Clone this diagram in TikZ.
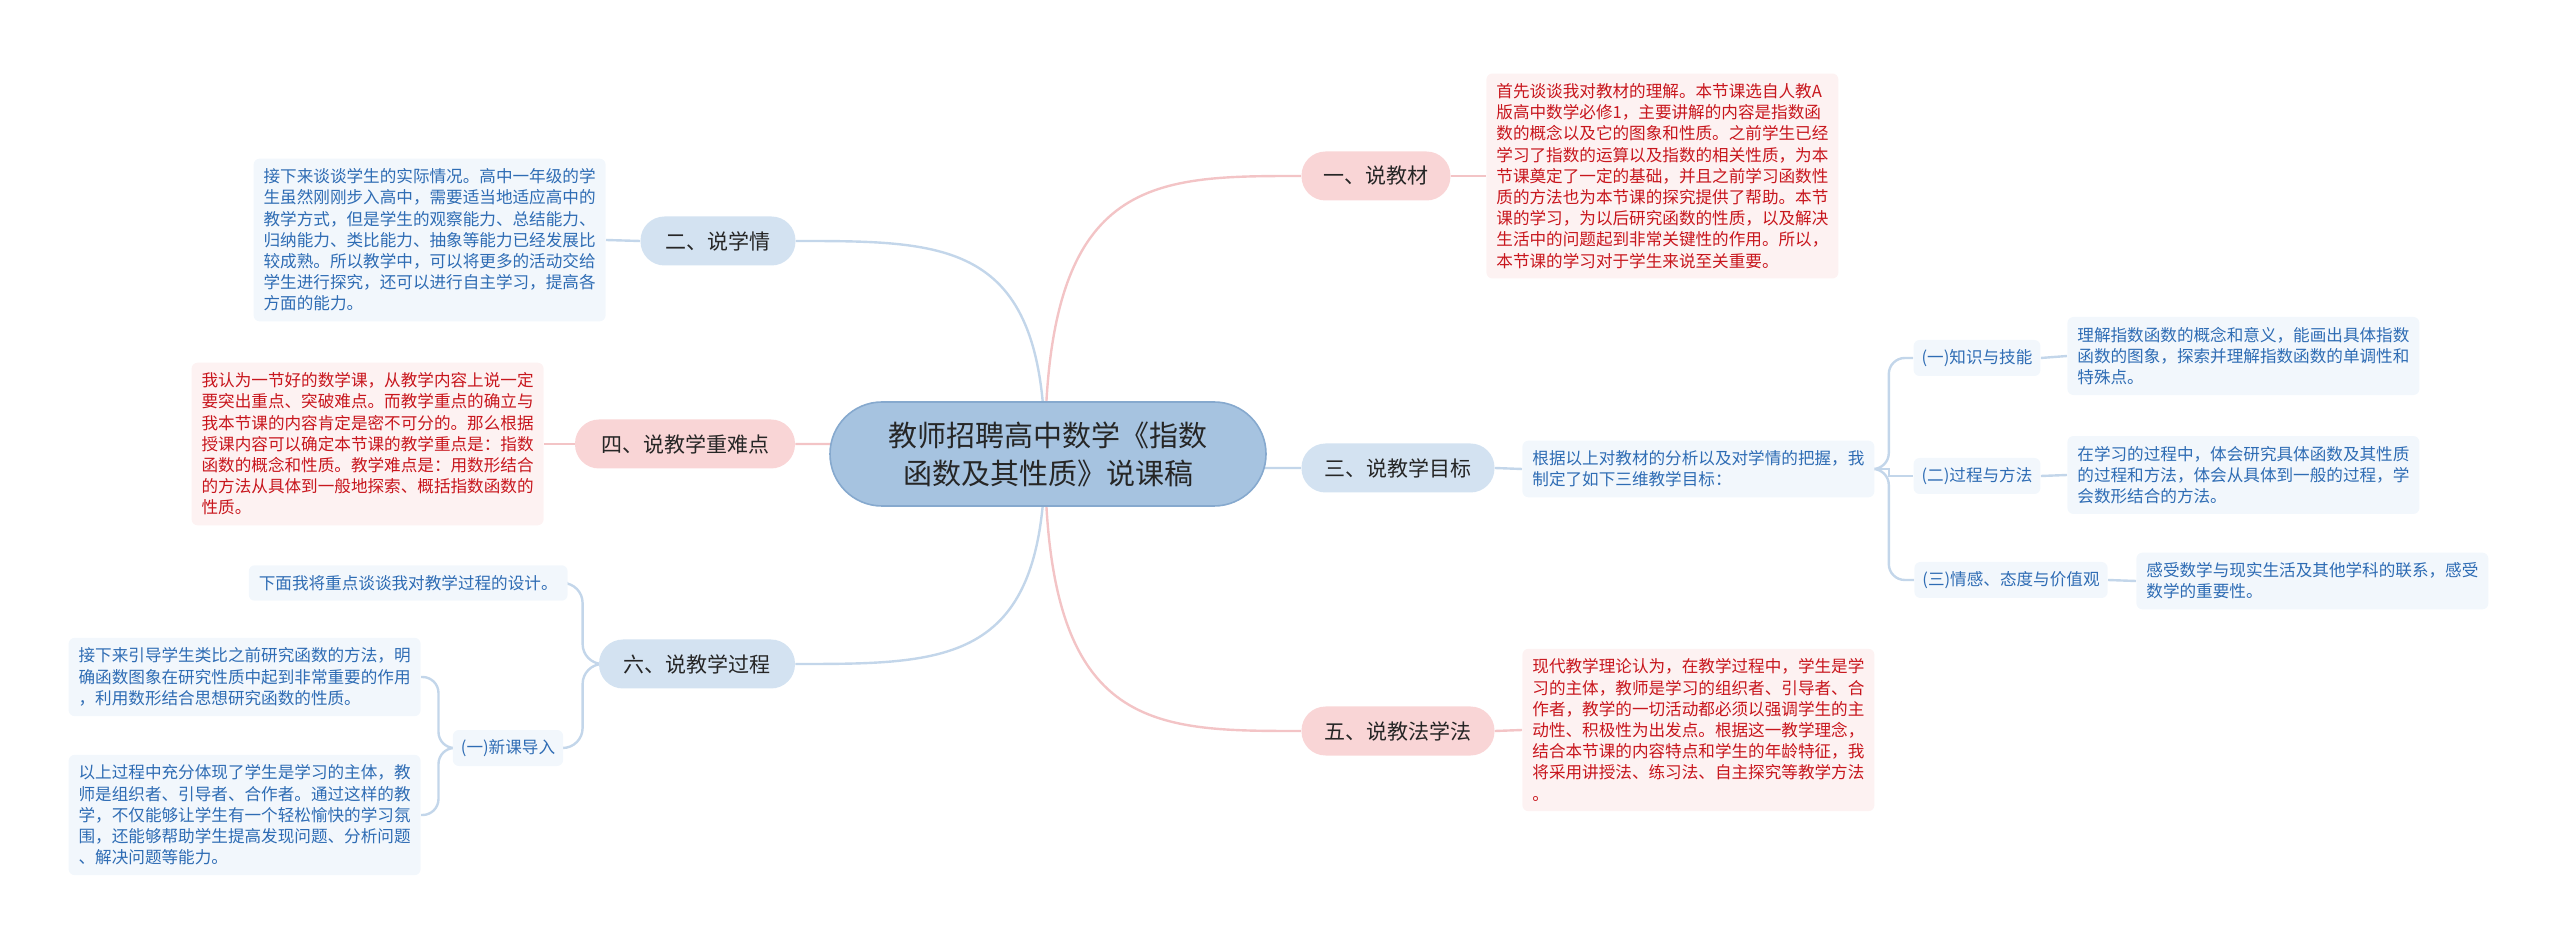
\documentclass[tikz,border=0pt]{standalone}
\usepackage{fontspec}
\setmainfont{Noto Sans CJK SC}
\usetikzlibrary{backgrounds}
\definecolor{bluefill}{HTML}{D3E2F1}
\definecolor{pinkfill}{HTML}{F9D5D6}
\definecolor{centerfill}{HTML}{A6C3E0}
\definecolor{centerdraw}{HTML}{86A9CE}
\definecolor{bluetext}{HTML}{2E6CB4}
\definecolor{redtext}{HTML}{C8161D}
\definecolor{boxblue}{HTML}{F2F7FC}
\definecolor{boxpink}{HTML}{FDF2F2}
\definecolor{lineblue}{HTML}{C3D6EA}
\definecolor{linepink}{HTML}{F3C4C6}
\tikzset{
  mainb/.style={fill=bluefill, rounded corners=12pt, minimum height=24.5pt, font=\fontsize{10.5}{12}\selectfont, text=black!85},
  mainp/.style={mainb, fill=pinkfill},
  tb/.style={fill=boxblue, rounded corners=3pt, text=bluetext, align=left, inner sep=5pt, font=\fontsize{8.3}{10.6}\selectfont, anchor=west},
  tp/.style={tb, fill=boxpink, text=redtext},
  sub/.style={fill=boxblue, rounded corners=3pt, text=bluetext, inner sep=4pt, minimum height=18pt, font=\fontsize{8.3}{10}\selectfont},
  lb/.style={draw=lineblue, line width=1.2pt},
  lp/.style={draw=linepink, line width=1.2pt},
}
\begin{document}
\begin{tikzpicture}[x=0.5pt,y=-0.5pt]
\useasboundingbox (0,0) rectangle (2560,951);
\node[fill=centerfill, draw=centerdraw, line width=0.8pt, rounded corners=26pt, minimum width=218pt, minimum height=52pt, align=center, font=\fontsize{14.5}{19}\selectfont, text=black!85] (c) at (1048,454) {教师招聘高中数学《指数\\函数及其性质》说课稿};
\coordinate (cc) at (1045,454);

\node[mainp, minimum width=74.5pt] (n1) at (1376,176) {一、说教材};
\node[mainb, minimum width=77.5pt] (n2) at (718,241) {二、说学情};
\node[mainb, minimum width=96.5pt] (n3) at (1398,468) {三、说教学目标};
\node[mainp, minimum width=110pt] (n4) at (685,444) {四、说教学重难点};
\node[mainp, minimum width=96.5pt] (n5) at (1398,731) {五、说教法学法};
\node[mainb, minimum width=98pt] (n6) at (697,664) {六、说教学过程};

\node[tp] (t1) at (1486,176) {首先谈谈我对教材的理解。本节课选自人教A\\版高中数学必修1，主要讲解的内容是指数函\\数的概念以及它的图象和性质。之前学生已经\\学习了指数的运算以及指数的相关性质，为本\\节课奠定了一定的基础，并且之前学习函数性\\质的方法也为本节课的探究提供了帮助。本节\\课的学习，为以后研究函数的性质，以及解决\\生活中的问题起到非常关键性的作用。所以，\\本节课的学习对于学生来说至关重要。};
\node[tb, anchor=east] (t2) at (606,240) {接下来谈谈学生的实际情况。高中一年级的学\\生虽然刚刚步入高中，需要适当地适应高中的\\教学方式，但是学生的观察能力、总结能力、\\归纳能力、类比能力、抽象等能力已经发展比\\较成熟。所以教学中，可以将更多的活动交给\\学生进行探究，还可以进行自主学习，提高各\\方面的能力。};
\node[tp, anchor=east] (t4) at (544,444) {我认为一节好的数学课，从教学内容上说一定\\要突出重点、突破难点。而教学重点的确立与\\我本节课的内容肯定是密不可分的。那么根据\\授课内容可以确定本节课的教学重点是：指数\\函数的概念和性质。教学难点是：用数形结合\\的方法从具体到一般地探索、概括指数函数的\\性质。};
\node[tb] (t3) at (1522,469) {根据以上对教材的分析以及对学情的把握，我\\制定了如下三维教学目标：};
\node[tp] (t5) at (1522,730) {现代教学理论认为，在教学过程中，学生是学\\习的主体，教师是学习的组织者、引导者、合\\作者，教学的一切活动都必须以强调学生的主\\动性、积极性为出发点。根据这一教学理念，\\结合本节课的内容特点和学生的年龄特征，我\\将采用讲授法、练习法、自主探究等教学方法\\。};

\node[sub] (s1) at (1977,358) {(一)知识与技能};
\node[sub] (s2) at (1977,476) {(二)过程与方法};
\node[sub] (s3) at (2011,580) {(三)情感、态度与价值观};
\node[tb] (u1) at (2067,356) {理解指数函数的概念和意义，能画出具体指数\\函数的图象，探索并理解指数函数的单调性和\\特殊点。};
\node[tb] (u2) at (2067,475) {在学习的过程中，体会研究具体函数及其性质\\的过程和方法，体会从具体到一般的过程，学\\会数形结合的方法。};
\node[tb] (u3) at (2136,581) {感受数学与现实生活及其他学科的联系，感受\\数学的重要性。};

\node[tb, anchor=east] (p1) at (568,583) {下面我将重点谈谈我对教学过程的设计。};
\node[sub] (p2) at (508,748) {(一)新课导入};
\node[tb, anchor=east] (q1) at (421,677) {接下来引导学生类比之前研究函数的方法，明\\确函数图象在研究性质中起到非常重要的作用\\，利用数形结合思想研究函数的性质。};
\node[tb, anchor=east] (q2) at (421,815) {以上过程中充分体现了学生是学习的主体，教\\师是组织者、引导者、合作者。通过这样的教\\学，不仅能够让学生有一个轻松愉快的学习氛\\围，还能够帮助学生提高发现问题、分析问题\\、解决问题等能力。};

\begin{scope}[on background layer]
\draw[lp] (cc) .. controls (1045,176) and (1150,176) .. (n1.west);
\draw[lb] (cc) .. controls (1045,241) and (950,241) .. (n2.east);
\draw[lb] (cc) .. controls (1045,468) and (1150,468) .. (n3.west);
\draw[lp] (cc) .. controls (1045,444) and (950,444) .. (n4.east);
\draw[lp] (cc) .. controls (1045,731) and (1150,731) .. (n5.west);
\draw[lb] (cc) .. controls (1045,664) and (950,664) .. (n6.east);
\draw[lp] (n1.east) -- (t1.west);
\draw[lb] (n2.west) -- (t2.east);
\draw[lb] (n3.east) -- (t3.west);
\draw[lp] (n4.west) -- (t4.east);
\draw[lp] (n5.east) -- (t5.west);
\draw[lb, rounded corners=8pt] (t3.east) -- ++(14,0) |- (s1.west);
\draw[lb] (t3.east) -- ++(14,0) |- (s2.west);
\draw[lb, rounded corners=8pt] (t3.east) -- ++(14,0) |- (s3.west);
\draw[lb] (s1.east) -- (u1.west);
\draw[lb] (s2.east) -- (u2.west);
\draw[lb] (s3.east) -- (u3.west);
\draw[lb, rounded corners=10pt] (n6.west) -- ++(-16,0) |- (p1.east);
\draw[lb, rounded corners=10pt] (n6.west) -- ++(-16,0) |- (p2.east);
\draw[lb, rounded corners=8pt] (p2.west) -- ++(-14,0) |- (q1.east);
\draw[lb, rounded corners=8pt] (p2.west) -- ++(-14,0) |- (q2.east);
\end{scope}
\end{tikzpicture}
\end{document}
